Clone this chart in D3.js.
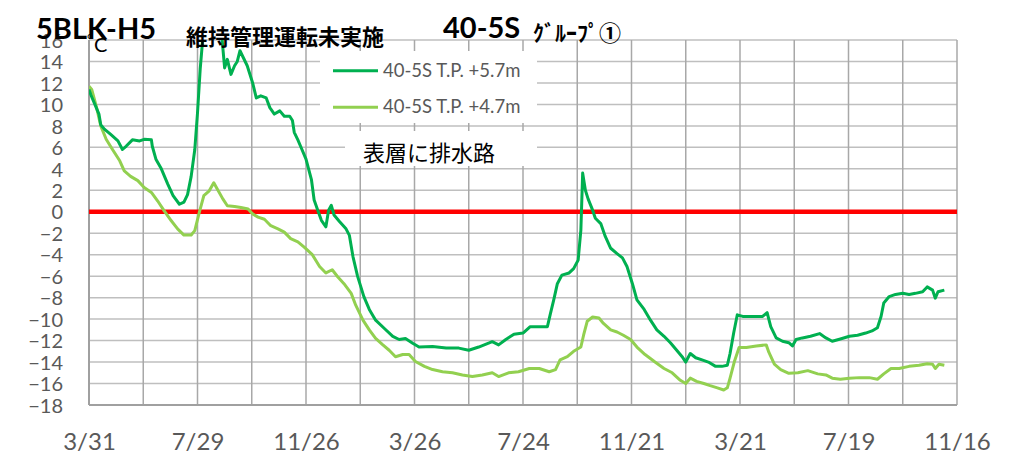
<!DOCTYPE html>
<html><head><meta charset="utf-8">
<script src="https://cdn.jsdelivr.net/npm/d3@7"></script>
<style>body{margin:0;background:#fff;} svg{display:block;}</style>
</head><body>
<svg id="c" width="1018" height="458"></svg>
<script>
// ---- data ----
const startDate = "2021-03-31";
const xGridDays = [0,60,120,180,240,300,360,420,480,540,600,660,720,780,840,900,960];
const xLabelDays = [0,120,240,360,480,600,720,840,960];
const xTickLabels = ["3/31","7/29","11/26","3/26","7/24","11/21","3/21","7/19","11/16"];
const yTicks = [-18,-16,-14,-12,-10,-8,-6,-4,-2,0,2,4,6,8,10,12,14,16];
const seriesNames = ["40-5S T.P. +5.7m","40-5S T.P. +4.7m"];

const upperDays = [0,2,8,11,13,17,24,32,37,41,48,56,61,69,70,74,80,87,93,100,105,109,113,117,120,123,126,129,135,142,147,148,150,153,157,161,164,167,171,175,181,185,190,196,200,205,211,216,222,225,227,231,234,240,246,249,253,257,262,265,268,271,277,284,288,292,297,304,310,317,327,336,343,350,358,365,380,395,409,420,431,446,453,461,470,480,488,498,507,510,514,518,523,531,536,541,544,546,549,552,557,560,566,571,577,584,590,595,601,606,614,621,628,636,643,650,656,660,665,671,678,685,693,700,706,709,713,717,723,730,738,745,750,754,760,767,774,778,782,789,798,808,815,822,831,841,850,859,866,872,876,879,885,892,900,907,914,922,927,933,936,939,946];
const upperValues = [11.4,10.9,9.7,9.1,8.1,7.7,7.2,6.6,5.8,6.1,6.7,6.6,6.75,6.7,6.1,4.9,4.0,2.6,1.5,0.7,0.9,1.6,3.3,5.8,9.2,13.3,16.3,18.5,20,18.5,16.3,15.3,13.4,14.2,12.8,13.6,14.0,15.0,14.3,13.6,12.0,10.6,10.8,10.6,9.7,9.1,9.4,8.9,8.9,8.5,7.4,6.7,6.1,4.9,3.0,1.1,0.15,-0.8,-1.4,0.15,0.6,-0.3,-0.9,-1.55,-2.2,-4.2,-6.0,-7.9,-9.1,-10.1,-10.9,-11.6,-11.9,-11.8,-12.25,-12.6,-12.55,-12.7,-12.7,-12.9,-12.6,-12.1,-12.4,-11.9,-11.4,-11.3,-10.7,-10.7,-10.7,-9.6,-8.2,-6.7,-5.9,-5.7,-5.3,-4.5,-1.7,3.6,2.0,1.2,0.15,-0.6,-1.1,-2.3,-3.4,-3.9,-4.3,-5.1,-6.7,-8.2,-9.1,-10.1,-11.0,-11.6,-12.2,-12.9,-13.5,-14.0,-13.2,-13.6,-13.8,-14.0,-14.4,-14.4,-14.3,-13.2,-11.3,-9.6,-9.75,-9.75,-9.75,-9.75,-9.4,-10.7,-11.75,-12.06,-12.2,-12.5,-11.9,-11.75,-11.6,-11.35,-11.75,-12.06,-11.85,-11.6,-11.5,-11.3,-11.1,-10.8,-9.75,-8.5,-7.9,-7.7,-7.6,-7.7,-7.6,-7.45,-7.0,-7.3,-8.05,-7.45,-7.3];

const lowerDays = [0,3,8,13,19,26,34,39,46,54,61,69,76,83,91,98,105,113,117,122,127,133,138,142,148,153,161,168,176,181,187,194,201,209,216,223,231,238,247,255,262,269,275,282,290,295,303,310,317,325,332,339,347,354,361,371,380,391,402,413,424,435,446,453,464,475,487,498,509,516,521,529,536,544,547,551,557,564,569,577,584,591,599,606,615,626,636,645,654,660,665,672,680,687,695,702,706,709,714,719,727,738,749,752,758,765,774,784,795,806,815,822,831,841,852,863,872,879,887,896,907,918,927,933,936,940,946];
const lowerValues = [11.7,11.4,9.85,8.0,6.75,5.8,4.75,3.8,3.3,2.9,2.26,1.8,1.0,0.1,-0.84,-1.6,-2.17,-2.17,-1.76,-0.06,1.5,1.95,2.7,2.1,1.2,0.56,0.5,0.4,0.25,-0.2,-0.5,-0.7,-1.3,-1.6,-1.9,-2.5,-2.8,-3.3,-4.0,-5.1,-5.7,-5.4,-6.05,-6.7,-7.6,-8.7,-10.1,-11.0,-11.8,-12.4,-12.9,-13.5,-13.3,-13.3,-13.95,-14.4,-14.7,-14.9,-15.0,-15.2,-15.35,-15.2,-15.0,-15.35,-15.0,-14.9,-14.6,-14.6,-14.9,-14.7,-13.8,-13.5,-13.0,-12.6,-11.5,-10.2,-9.8,-9.9,-10.4,-11.0,-11.2,-11.5,-11.9,-12.6,-13.3,-14.0,-14.6,-15.0,-15.7,-16.0,-15.5,-15.8,-16.0,-16.2,-16.4,-16.6,-16.4,-15.5,-13.9,-12.65,-12.65,-12.5,-12.4,-13.1,-14.2,-14.7,-15.05,-15.0,-14.8,-15.1,-15.2,-15.5,-15.6,-15.5,-15.45,-15.45,-15.6,-15.1,-14.6,-14.6,-14.4,-14.3,-14.15,-14.2,-14.6,-14.2,-14.3];

// ---- chart ----
const colors = ["#00B050", "#92D050"];
const svg = d3.select("#c");
const t0 = d3.timeParse("%Y-%m-%d")(startDate);
const dayToDate = d => d3.timeDay.offset(t0, d);
const L = 89, R = 957, T = 40, B = 405;
const x = d3.scaleTime().domain([dayToDate(0), dayToDate(960)]).range([L, R]);
const y = d3.scaleLinear().domain([-18, 16]).range([B, T]);

svg.append("rect").attr("width",1018).attr("height",458).attr("fill","#fff");

// horizontal grid
svg.append("g").selectAll("line").data(yTicks).join("line")
  .attr("x1", L).attr("x2", R).attr("y1", d => y(d)).attr("y2", d => y(d))
  .attr("stroke", "#BFBFBF").attr("stroke-width", 1.5);
// vertical grid
svg.append("g").selectAll("line").data(xGridDays).join("line")
  .attr("x1", d => x(dayToDate(d))).attr("x2", d => x(dayToDate(d)))
  .attr("y1", T).attr("y2", B)
  .attr("stroke", "#A8A8A8").attr("stroke-width", 1.5);
// axes lines
svg.append("line").attr("x1",L).attr("x2",L).attr("y1",T).attr("y2",B).attr("stroke","#A0A0A0").attr("stroke-width",2);
svg.append("line").attr("x1",L).attr("x2",R).attr("y1",B).attr("y2",B).attr("stroke","#A0A0A0").attr("stroke-width",2);

// y axis labels
const yAxis = d3.axisLeft(y).tickValues(yTicks).tickSize(0).tickPadding(0).tickFormat(d3.format("d"));
const gy = svg.append("g").attr("transform", `translate(63,0)`).call(yAxis);
gy.select(".domain").remove();
gy.selectAll("text").attr("font-family","Lato, 'Open Sans', sans-serif").attr("font-size",20).attr("fill","#595959").attr("dy","0.36em");

// x axis labels
const xAxis = d3.axisBottom(x).tickValues(xLabelDays.map(dayToDate)).tickSize(0).tickPadding(0)
  .tickFormat((d,i) => xTickLabels[i]);
const gx = svg.append("g").attr("transform", `translate(0,450)`).call(xAxis);
gx.select(".domain").remove();
gx.selectAll("text").attr("font-family","Lato, 'Open Sans', sans-serif").attr("font-size",24).attr("fill","#595959").attr("dy",0).attr("y",0);

// clip
svg.append("clipPath").attr("id","plot").append("rect").attr("x",L).attr("y",T).attr("width",R-L).attr("height",B-T);

// zero red line
svg.append("line").attr("x1",L).attr("x2",R).attr("y1",y(0)).attr("y2",y(0)).attr("stroke","#FF0000").attr("stroke-width",4.5);

const line = d3.line().x(d => x(dayToDate(d[0]))).y(d => y(d[1]));
const series = [
  d3.zip(upperDays, upperValues),
  d3.zip(lowerDays, lowerValues)
];
// draw light first, dark on top
[1,0].forEach(i => {
  svg.append("path").datum(series[i]).attr("clip-path","url(#plot)")
    .attr("d", line).attr("fill","none").attr("stroke", colors[i])
    .attr("stroke-width", 3).attr("stroke-linejoin","round");
});

// legend box
svg.append("rect").attr("x",320).attr("y",51).attr("width",217).attr("height",72).attr("fill","#fff");
seriesNames.forEach((n,i) => {
  const ly = 70.7 + i*36.6;
  svg.append("line").attr("x1",333).attr("x2",378).attr("y1",ly).attr("y2",ly).attr("stroke",colors[i]).attr("stroke-width",3);
  svg.append("text").attr("x",383).attr("y",ly+6).text(n)
    .attr("font-family","Lato, 'Open Sans', sans-serif").attr("font-size",18.5).attr("fill","#595959");
});

// annotation box
svg.append("rect").attr("x",345).attr("y",131).attr("width",192).attr("height",35).attr("fill","#fff");
svg.append("text").attr("x",363).attr("y",161).text("表層に排水路")
  .attr("font-family","'Noto Sans CJK JP', sans-serif").attr("font-size",22).attr("fill","#000");

// unit
svg.append("text").attr("x",87).attr("y",44).text("°")
  .attr("font-family","Lato, sans-serif").attr("font-size",14).attr("fill","#000");
svg.append("text").attr("x",94).attr("y",52).text("C")
  .attr("font-family","Lato, sans-serif").attr("font-size",20).attr("fill","#000");

// titles
svg.append("text").attr("x",36).attr("y",39).text("5BLK-H5")
  .attr("font-family","Lato, sans-serif").attr("font-weight","bold").attr("font-size",29).attr("fill","#000");
svg.append("text").attr("x",186).attr("y",45).text("維持管理運転未実施")
  .attr("font-family","'Noto Sans CJK JP', sans-serif").attr("font-weight","bold").attr("font-size",22).attr("fill","#000");
svg.append("text").attr("x",443).attr("y",38).text("40-5S")
  .attr("font-family","Lato, sans-serif").attr("font-weight","bold").attr("font-size",29).attr("fill","#000");
svg.append("text").attr("x",533).attr("y",41).text("ｸﾞﾙｰﾌﾟ①")
  .attr("font-family","'Noto Sans CJK JP', sans-serif").attr("font-weight","bold").attr("font-size",22).attr("fill","#000");
</script>
</body></html>
